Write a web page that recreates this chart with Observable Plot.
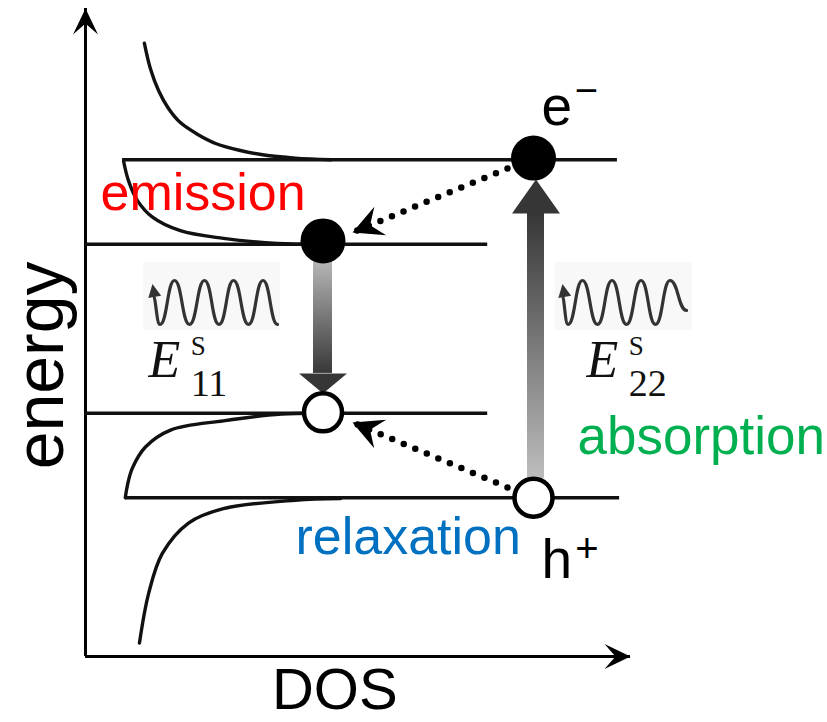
<!DOCTYPE html>
<html><head><meta charset="utf-8">
<script src="https://cdn.jsdelivr.net/npm/d3@7"></script>
<script src="https://cdn.jsdelivr.net/npm/@observablehq/plot@0.6"></script>
<style>html,body{margin:0;padding:0;background:#fff}svg{display:block}</style>
</head><body><div id="chart"></div>
<script>
// ---------------- data (DOS units, energy in units of E11/2) ----------------
const bandLevels = [
  {band: "c2", energy: 2.0, dos0: 0.68, dos1: 9.76},
  {band: "c1", energy: 1.0, dos0: 0.0, dos1: 7.38},
  {band: "v1", energy: -1.0, dos0: 0.0, dos1: 7.38},
  {band: "v2", energy: -2.0, dos0: 0.73, dos1: 9.80}
];
const vhsC2 = [[1.08,3.38],[1.19,3.08],[1.34,2.82],[1.52,2.61],[1.74,2.44],[2.06,2.30],[2.40,2.19],[2.84,2.11],[3.25,2.06],[3.85,2.02],[4.51,2.00]];
const vhsC1 = [[0.70,1.98],[0.79,1.75],[0.95,1.52],[1.23,1.32],[1.74,1.16],[2.53,1.07],[3.52,1.01],[4.31,1.00]];
const vhsV1 = [[4.31,-1.00],[3.60,-1.01],[2.53,-1.09],[1.56,-1.20],[1.10,-1.40],[0.86,-1.65],[0.77,-1.85],[0.73,-2.00]];
const vhsV2 = [[4.68,-2.01],[3.85,-2.03],[2.53,-2.13],[1.89,-2.30],[1.41,-2.66],[1.16,-3.13],[0.99,-3.72]];

const waveLeft = [[1.229,0.40],[1.367,0.051],[1.633,0.571],[1.908,0.051],[2.183,0.571],[2.450,0.051],[2.716,0.571],[2.991,0.051],[3.257,0.571],[3.523,0.051]];
const waveRight = [[8.734,0.40],[8.853,0.051],[9.119,0.571],[9.394,0.051],[9.661,0.571],[9.927,0.051],[10.193,0.571],[10.459,0.051],[10.725,0.571],[11.028,0.217]];
const waveTips = [{dos: 1.229, energy: 0.53}, {dos: 8.752, energy: 0.53}];
const waveBoxes = [{dos0: 1.064, dos1: 3.578, e0: -0.02, e1: 0.785}, {dos0: 8.624, dos1: 11.138, e0: -0.02, e1: 0.785}];

const electrons = [{dos: 8.22, energy: 2.02}, {dos: 4.358, energy: 1.04}];
const holes = [{dos: 4.358, energy: -0.99}, {dos: 8.22, energy: -2.0}];

const transitions = [
  {name: "emission", dos: 4.358, from: 0.785, to: -0.529, tip: -0.766},
  {name: "absorption", dos: 8.266, from: -1.772, to: 1.365, tip: 1.766}
];
const relaxations = [
  {id: "c", x1: 7.743, y1: 1.897, x2: 4.899, y2: 1.140},
  {id: "v", x1: 7.743, y1: -1.878, x2: 4.899, y2: -1.109}
];

const axisX = [{dos0: 0, dos1: 10, energy: -3.88}];
const axisY = [{dos: 0, e0: -3.88, e1: 3.79}];

const labels = [
  {key: "emission", text: "emission", dos: 0.275, energy: 1.40},
  {key: "relaxation", text: "relaxation", dos: 3.853, energy: -2.671},
  {key: "absorption", text: "absorption", dos: 9.028, energy: -1.488},
  {key: "DOS", text: "DOS", dos: 3.42, energy: -4.50},
  {key: "energy", text: "energy", dos: -0.42, energy: -0.434},
  {key: "carrier", text: "e", dos: 8.367, energy: 2.406},
  {key: "carrier", text: "h", dos: 8.367, energy: -2.955},
  {key: "charge", text: "\u2212", dos: 9.193, energy: 2.666},
  {key: "charge", text: "+", dos: 9.202, energy: -2.766},
  {key: "E", text: "E", dos: 1.156, energy: -0.576},
  {key: "E", text: "E", dos: 9.193, energy: -0.576},
  {key: "sup", text: "S", dos: 1.93, energy: -0.316},
  {key: "sup", text: "S", dos: 9.967, energy: -0.316},
  {key: "sub", text: "11", dos: 1.93, energy: -0.801},
  {key: "sub", text: "22", dos: 9.967, energy: -0.801}
];

// ---------------- layout ----------------
const W = 827, H = 722, mL = 85, mR = 197, mT = 3, mB = 66;
const xDomain = [0, 10], yDomain = [-3.88, 3.85];
const kx = (W - mL - mR) / (xDomain[1] - xDomain[0]);
const ky = (H - mT - mB) / (yDomain[1] - yDomain[0]);
const screenAngle = (x1, y1, x2, y2) => Math.atan2(-(y2 - y1) * ky, (x2 - x1) * kx) * 180 / Math.PI;

function polySymbol(points, angleDeg) {
  const a = angleDeg * Math.PI / 180, c = Math.cos(a), s = Math.sin(a);
  const pts = points.map(([x, y]) => [x * c - y * s, x * s + y * c]);
  return {draw(ctx) { ctx.moveTo(pts[0][0], pts[0][1]); for (const p of pts.slice(1)) ctx.lineTo(p[0], p[1]); ctx.closePath(); }};
}
const barb = (L, Wd, N, a) => polySymbol([[0, 0], [-L, -Wd], [-N, 0], [-L, Wd]], a);
const tri = (hw, h, a) => polySymbol([[0, 0], [-h, -hw], [-h, hw]], a);

const pts = (arr, id) => arr.map(([dos, energy]) => ({id, dos, energy}));
const curves = [...pts(vhsC2, "c2"), ...pts(vhsC1, "c1"), ...pts(vhsV1, "v1"), ...pts(vhsV2, "v2")];
const waves = [...pts(waveLeft, "L"), ...pts(waveRight, "R")];
const lab = k => labels.filter(d => d.key === k);
const sans = "Liberation Sans, Arial, sans-serif";
const serif = "Liberation Serif, Times New Roman, serif";

const marks = [
  Plot.rect(waveBoxes, {x1: "dos0", x2: "dos1", y1: "e0", y2: "e1", fill: "#f8f8f8"}),
  // axes
  Plot.ruleY(axisX, {y: "energy", x1: "dos0", x2: "dos1", stroke: "black", strokeWidth: 3}),
  Plot.ruleX(axisY, {x: "dos", y1: "e0", y2: "e1", stroke: "black", strokeWidth: 3}),
  Plot.dot(axisX, {x: "dos1", y: "energy", symbol: barb(26, 12.5, 15, 0), r: 1, fill: "black", stroke: "none"}),
  Plot.dot(axisY, {x: "dos", y: "e1", symbol: barb(26, 12.5, 15, -90), r: 1, fill: "black", stroke: "none"}),
  // bands
  Plot.ruleY(bandLevels, {y: "energy", x1: "dos0", x2: "dos1", stroke: "#111", strokeWidth: 3.5}),
  Plot.line(curves, {x: "dos", y: "energy", z: "id", curve: "catmull-rom", stroke: "#111", strokeWidth: 3.4}),
  // photon waves
  Plot.line(waves, {x: "dos", y: "energy", z: "id", curve: "bump-x", stroke: "#333", strokeWidth: 3.2}),
  Plot.dot(waveTips, {x: "dos", y: "energy", symbol: tri(6.5, 13, -100), r: 1, fill: "#333", stroke: "none"}),
  // gradient transition arrows
  Plot.rect(transitions.filter(d => d.name === "emission"), {x1: "dos", x2: "dos", y1: "from", y2: "to", insetLeft: -9.5, insetRight: -9.5, fill: "url(#gradDown)"}),
  Plot.rect(transitions.filter(d => d.name === "absorption"), {x1: "dos", x2: "dos", y1: "from", y2: "to", insetLeft: -8.5, insetRight: -8.5, fill: "url(#gradUp)"}),
  ...transitions.map(d => Plot.dot([d], {x: "dos", y: "tip",
    symbol: tri(24, Math.abs(d.tip - d.to) * ky, d.tip < d.to ? 90 : -90), r: 1, fill: "#363636", stroke: "none"})),
  // relaxation dotted arrows
  ...relaxations.map(d => Plot.line([[d.x1, d.y1], [d.x2, d.y2]], {x: p => p[0], y: p => p[1], stroke: "black",
    strokeWidth: 6.5, strokeDasharray: "0 12.5", strokeLinecap: "round"})),
  ...relaxations.map(d => Plot.dot([d], {x: "x2", y: "y2", symbol: barb(30, 15.5, 19, screenAngle(d.x1, d.y1, d.x2, d.y2)), r: 1, fill: "black", stroke: "none"})),
  // carriers
  Plot.dot(electrons, {x: "dos", y: "energy", r: 22.5, fill: "black", stroke: "none"}),
  Plot.dot(holes, {x: "dos", y: "energy", r: 19, fill: "white", stroke: "black", strokeWidth: 4.5}),
  // labels
  Plot.text(lab("emission"), {x: "dos", y: "energy", text: "text", fill: "#ff0000", fontSize: 52, fontFamily: sans, textAnchor: "start", lineAnchor: "bottom"}),
  Plot.text(lab("relaxation"), {x: "dos", y: "energy", text: "text", fill: "#0070c0", fontSize: 52, fontFamily: sans, textAnchor: "start", lineAnchor: "bottom"}),
  Plot.text(lab("absorption"), {x: "dos", y: "energy", text: "text", fill: "#00b050", fontSize: 53, fontFamily: sans, textAnchor: "start", lineAnchor: "bottom"}),
  Plot.text(lab("DOS"), {x: "dos", y: "energy", text: "text", fill: "black", fontSize: 58, fontFamily: sans, textAnchor: "start", lineAnchor: "bottom"}),
  Plot.text(lab("energy"), {x: "dos", y: "energy", text: "text", fill: "black", fontSize: 68, fontFamily: sans, textAnchor: "middle", lineAnchor: "bottom", rotate: -90}),
  Plot.text(lab("carrier"), {x: "dos", y: "energy", text: "text", fill: "black", fontSize: 55, fontFamily: sans, textAnchor: "start", lineAnchor: "bottom"}),
  Plot.text(lab("charge"), {x: "dos", y: "energy", text: "text", fill: "black", fontSize: 40, fontFamily: sans, textAnchor: "middle", lineAnchor: "bottom"}),
  Plot.text(lab("E"), {x: "dos", y: "energy", text: "text", fill: "#111", fontSize: 52, fontFamily: serif, fontStyle: "italic", textAnchor: "start", lineAnchor: "bottom"}),
  Plot.text(lab("sup"), {x: "dos", y: "energy", text: "text", fill: "#111", fontSize: 27, fontFamily: serif, textAnchor: "start", lineAnchor: "bottom"}),
  Plot.text(lab("sub"), {x: "dos", y: "energy", text: "text", fill: "#111", fontSize: 38, fontFamily: serif, textAnchor: "start", lineAnchor: "bottom"})
];

const svg = Plot.plot({
  width: W, height: H,
  marginLeft: mL, marginRight: mR, marginTop: mT, marginBottom: mB,
  x: {domain: xDomain, axis: null},
  y: {domain: yDomain, axis: null},
  style: {background: "white", overflow: "visible"},
  marks
});

const defs = d3.select(svg).insert("defs", ":first-child");
function grad(id, top, bottom) {
  const g = defs.append("linearGradient").attr("id", id).attr("x1", 0).attr("y1", 0).attr("x2", 0).attr("y2", 1);
  g.append("stop").attr("offset", 0).attr("stop-color", top);
  g.append("stop").attr("offset", 1).attr("stop-color", bottom);
}
grad("gradDown", "#b5b5b5", "#383838");
grad("gradUp", "#363636", "#bdbdbd");

document.getElementById("chart").appendChild(svg);
</script>
</body></html>
